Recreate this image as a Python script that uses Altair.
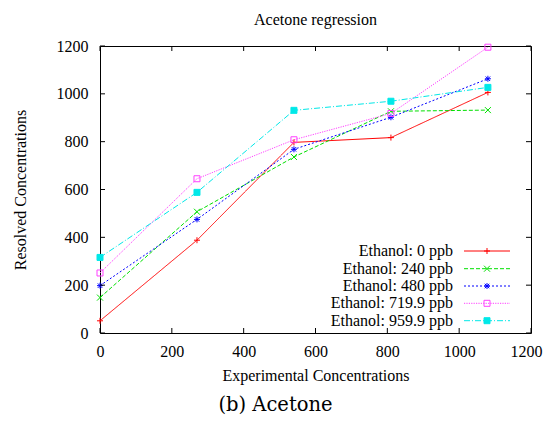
import altair as alt
import pandas as pd

# ---- data ----
conc = [0, 270, 540, 810, 1080]
series_names = ["Ethanol: 0 ppb", "Ethanol: 240 ppb", "Ethanol: 480 ppb",
                "Ethanol: 719.9 ppb", "Ethanol: 959.9 ppb"]
vals_0 = [51, 388, 797, 817, 1006]
vals_240 = [148, 507, 736, 927, 932]
vals_480 = [198, 475, 768, 902, 1063]
vals_720 = [251, 645, 808, 918, 1195]
vals_960 = [316, 588, 931, 969, 1027]
all_vals = [vals_0, vals_240, vals_480, vals_720, vals_960]
tick_vals = [0, 200, 400, 600, 800, 1000, 1200]

colors = ["#ff0000", "#00e000", "#0000ff", "#ff40ff", "#00e8e8"]
dashes = [[1, 0], [4, 2], [2, 2], [1.2, 1.2], [6, 2, 1, 2]]
shapes = ["M-1,0L1,0M0,-1L0,1",
          "M-1,-1L1,1M-1,1L1,-1",
          "M-1,0L1,0M0,-1L0,1M-0.75,-0.75L0.75,0.75M-0.75,0.75L0.75,-0.75",
          "square", "square"]
fills = ["transparent", "transparent", "transparent", "transparent", "#00e8e8"]

rows = []
for name, vs in zip(series_names, all_vals):
    for c, v in zip(conc, vs):
        rows.append({"series": name, "x": c, "y": v})
df = pd.DataFrame(rows)

W, H = 431, 287
FONT = "Liberation Serif"

xs = alt.Scale(domain=[0, 1200], nice=False)
ys = alt.Scale(domain=[0, 1200], nice=False)
cscale = alt.Scale(domain=series_names, range=colors)

base = alt.Chart(df)
lines = base.mark_line(strokeWidth=1).encode(
    x=alt.X("x:Q", scale=xs, title="Experimental Concentrations",
            axis=alt.Axis(values=tick_vals, ticks=False, domain=False, grid=False, format="d",
                          labelFlush=False, labelPadding=10, titlePadding=8,
                          labelOffset=alt.ExprRef("datum.value == 1200 ? -5 : 0"))),
    y=alt.Y("y:Q", scale=ys, title="Resolved Concentrations",
            axis=alt.Axis(values=tick_vals, ticks=False, domain=False, grid=False, format="d",
                          labelFlush=False, labelPadding=12, titlePadding=28)),
    color=alt.Color("series:N", scale=cscale, legend=None),
    strokeDash=alt.StrokeDash("series:N", scale=alt.Scale(domain=series_names, range=dashes), legend=None),
    detail="series:N",
)
points = base.mark_point(strokeWidth=1, opacity=1).encode(
    x=alt.X("x:Q", scale=xs),
    y=alt.Y("y:Q", scale=ys),
    stroke=alt.Stroke("series:N", scale=cscale, legend=None),
    fill=alt.Fill("series:N", scale=alt.Scale(domain=series_names, range=fills), legend=None),
    shape=alt.Shape("series:N", scale=alt.Scale(domain=series_names, range=shapes), legend=None),
    size=alt.value(36),
)

tdf = pd.DataFrame({"v": tick_vals})
tk = alt.Chart(tdf).mark_rule(color="black", strokeWidth=1)
tick_b = tk.encode(x=alt.X("v:Q", scale=xs), y=alt.value(H), y2=alt.value(H - 5))
tick_t = tk.encode(x=alt.X("v:Q", scale=xs), y=alt.value(0), y2=alt.value(5))
tick_l = tk.encode(y=alt.Y("v:Q", scale=ys), x=alt.value(0), x2=alt.value(5))
tick_r = tk.encode(y=alt.Y("v:Q", scale=ys), x=alt.value(W), x2=alt.value(W - 5))

layers = [lines, points, tick_b, tick_t, tick_l, tick_r]

# legend inside lower right
leg_y = [205, 222.7, 240, 257.3, 274.7]
for i, name in enumerate(series_names):
    ld = alt.Chart(pd.DataFrame({"label": [name]}))
    layers.append(ld.mark_text(align="right", baseline="middle", font=FONT, fontSize=16,
                               color="black").encode(
        text="label:N", x=alt.value(353), y=alt.value(leg_y[i])))
    layers.append(ld.mark_rule(color=colors[i], strokeWidth=1, strokeDash=dashes[i]).encode(
        x=alt.value(364), x2=alt.value(410), y=alt.value(leg_y[i])))
    layers.append(ld.mark_point(shape=shapes[i], size=36, strokeWidth=1, opacity=1,
                                stroke=colors[i], fill=fills[i]).encode(
        x=alt.value(387), y=alt.value(leg_y[i])))

caption = alt.Chart(pd.DataFrame({"t": ["(b) Acetone"]})).mark_text(
    font="DejaVu Serif", fontSize=19.5, baseline="middle", align="center", color="black"
).encode(text="t:N", x=alt.value(W / 2 - 40), y=alt.value(H + 72))
layers.append(caption)

chart = alt.layer(*layers).properties(
    width=W, height=H,
    title=alt.TitleParams("Acetone regression", font=FONT, fontSize=16,
                          fontWeight="normal", anchor="middle", offset=10, color="black"),
    autosize=alt.AutoSizeParams(type="none"),
    padding={"left": 92, "top": 38, "right": 12, "bottom": 90},
).configure_view(stroke="black", strokeWidth=1).configure_axis(
    labelFont=FONT, labelFontSize=16, labelColor="black",
    titleFont=FONT, titleFontSize=16, titleFontWeight="normal", titleColor="black",
)

chart.save("out.html", embed_options={"renderer": "svg", "actions": False})
